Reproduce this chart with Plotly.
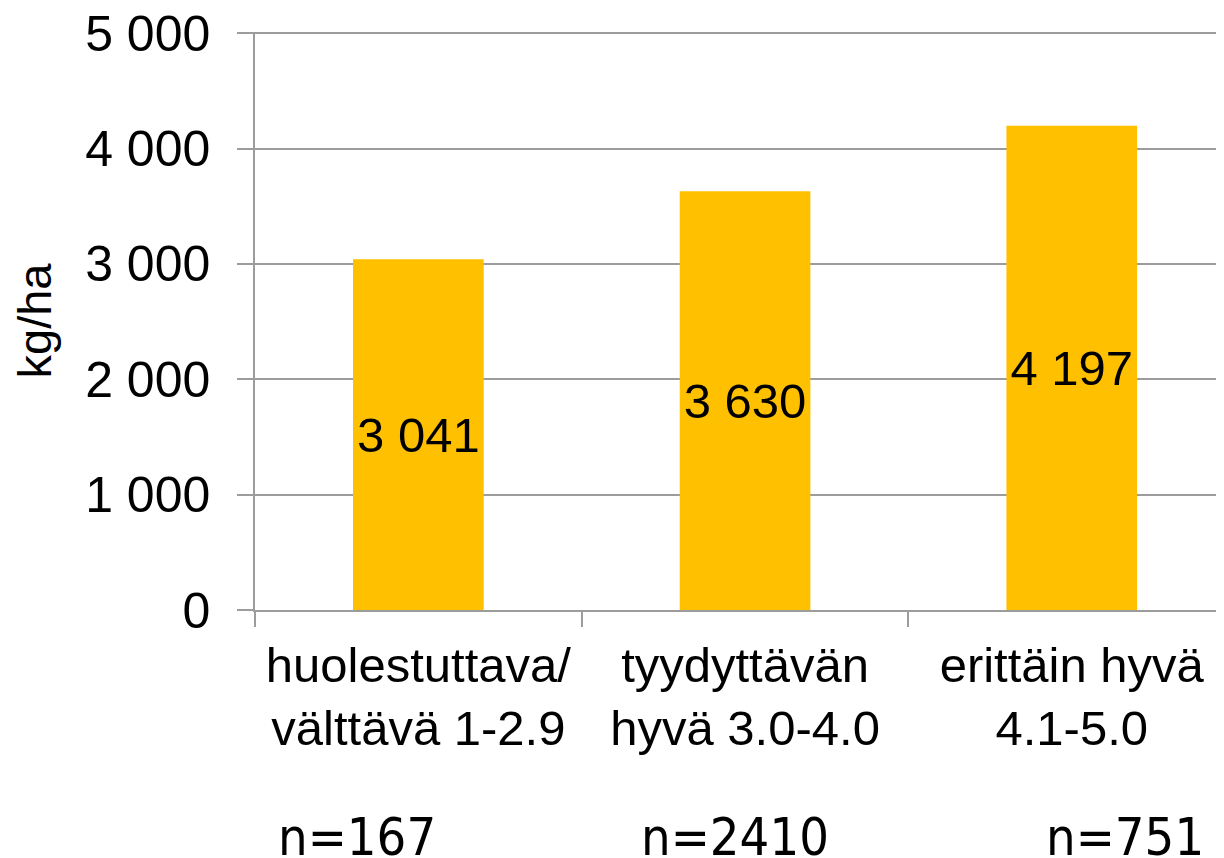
import plotly.graph_objects as go

categories = ["huolestuttava/<br>välttävä 1-2.9", "tyydyttävän<br>hyvä 3.0-4.0", "erittäin hyvä<br>4.1-5.0"]
values = [3041, 3630, 4197]
value_labels = ["3 041", "3 630", "4 197"]
n_labels = ["n=167", "n=2410", "n=751"]
n_label_x = [0.105, 0.495, 0.898]
y_tickvals = [0, 1000, 2000, 3000, 4000, 5000]
y_ticktext = ["0", "1 000", "2 000", "3 000", "4 000", "5 000"]

GRID = "#9C9C9C"
FONT = "Liberation Sans, Arial, sans-serif"

fig = go.Figure()
fig.add_trace(go.Bar(
    x=categories, y=values, text=value_labels,
    textposition="inside", insidetextanchor="middle",
    textfont=dict(family=FONT, size=49, color="black"),
    marker=dict(color="#FFC000", line=dict(width=0)),
    width=0.4, cliponaxis=False,
))

for t, x in zip(n_labels, n_label_x):
    fig.add_annotation(text=t, x=x, y=-0.392, xref="paper", yref="paper",
                       xanchor="center", yanchor="middle", showarrow=False,
                       font=dict(family="DejaVu Sans Condensed, DejaVu Sans, Verdana, sans-serif",
                                 size=52, color="black"))

# page body has an 8px margin: compensate so the plot area lands where the reference has it
fig.update_layout(
    width=1216, height=850,
    margin=dict(l=247, r=0, t=24, b=248),
    paper_bgcolor="white", plot_bgcolor="white",
    showlegend=False,
    font=dict(family=FONT, color="black"),
    bargap=0.6,
    xaxis=dict(
        type="category", range=[-0.5, 2.466],
        tickson="boundaries", ticks="outside", ticklen=15, tickcolor=GRID, tickwidth=1.5,
        showline=True, linecolor=GRID, linewidth=1.5,
        showgrid=False, tickfont=dict(family=FONT, size=49, color="black"),
        ticklabelstandoff=11,
        automargin=False,
    ),
    yaxis=dict(
        range=[0, 5010], tickvals=y_tickvals, ticktext=y_ticktext,
        ticks="outside", ticklen=16, tickcolor=GRID, tickwidth=1.5,
        showline=True, linecolor=GRID, linewidth=1.5,
        showgrid=True, gridcolor=GRID, gridwidth=1.5, zeroline=False,
        tickfont=dict(family=FONT, size=50, color="black"),
        ticklabelstandoff=17, ticklabeloverflow="allow",
        title=dict(text="kg/ha", font=dict(family=FONT, size=47, color="black"), standoff=20),
        automargin=False,
    ),
)

fig.write_html("out.html")
